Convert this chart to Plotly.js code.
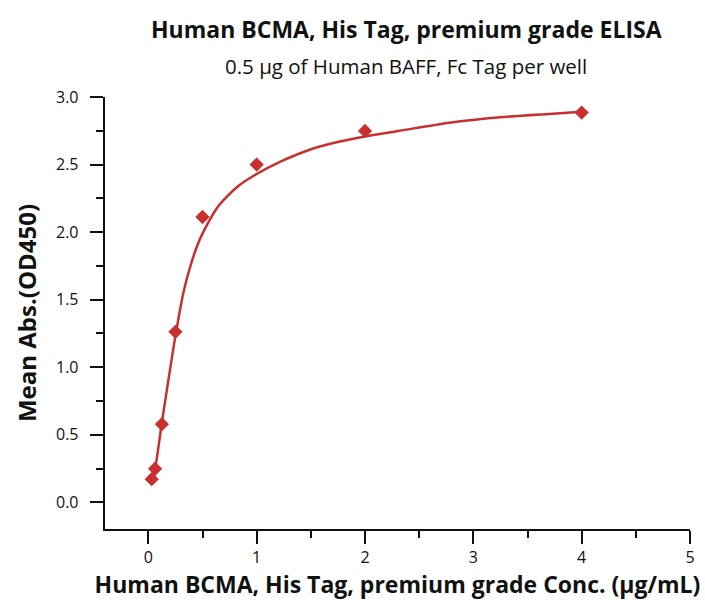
<!DOCTYPE html>
<html>
<head>
<meta charset="utf-8">
<script src="https://cdn.plot.ly/plotly-3.0.1.min.js"></script>
<style>html,body{margin:0;padding:0;background:#fff;}#chart{width:705px;height:600px;}</style>
</head>
<body>
<div id="chart"></div>
<script>
// Measured data points (concentration µg/mL, mean OD450)
const concentrations = [0.03125, 0.0625, 0.125, 0.25, 0.5, 1, 2, 4];
const meanAbs = [0.172, 0.249, 0.579, 1.262, 2.112, 2.50, 2.749, 2.885];

// Fitted curve
const fitX = [0.031, 0.062, 0.123, 0.19, 0.256, 0.323, 0.385, 0.461, 0.539, 0.631, 0.723, 0.846, 1.0, 1.215, 1.49, 1.767, 2.015, 2.32, 2.78, 3.245, 3.70, 4.0];
const fitY = [0.17, 0.25, 0.58, 0.93, 1.26, 1.55, 1.74, 1.92, 2.05, 2.175, 2.26, 2.35, 2.43, 2.52, 2.61, 2.67, 2.71, 2.75, 2.81, 2.85, 2.875, 2.89];

const titleText = 'Human BCMA, His Tag, premium grade ELISA';
const subtitleText = '0.5 μg of Human BAFF, Fc Tag per well';
const xTitle = 'Human BCMA, His Tag, premium grade Conc. (μg/mL)';
const yTitle = 'Mean Abs.(OD450)';

const red = '#c8302f';
const FONT = '"Open Sans", Lato, sans-serif';
const INK = '#111';

const traces = [
  {x: fitX, y: fitY, mode: 'lines', type: 'scatter', line: {color: red, width: 2.5, shape: 'spline', smoothing: 0.8}, hoverinfo: 'skip', showlegend: false},
  {x: concentrations, y: meanAbs, mode: 'markers', type: 'scatter', marker: {symbol: 'diamond', size: 11, color: red}, showlegend: false}
];

const layout = {
  width: 705, height: 600,
  margin: {l: 105, r: 15, t: 97, b: 71},
  paper_bgcolor: '#fff', plot_bgcolor: '#fff',
  font: {family: FONT, color: INK},
  showlegend: false,
  xaxis: {
    range: [-0.4, 5], dtick: 1,
    showgrid: false, zeroline: false, showline: true, linecolor: INK, linewidth: 2,
    ticks: 'outside', ticklen: 13, tickwidth: 2, tickcolor: INK,
    tickfont: {size: 16, family: FONT, color: INK},
    minor: {ticks: 'outside', ticklen: 7, tickwidth: 2, dtick: 0.5},
    title: {text: xTitle, font: {size: 23, family: FONT, color: INK, weight: 'bold'}, standoff: 6}
  },
  yaxis: {
    range: [-0.197, 3.0], dtick: 0.5, tickformat: '.1f', ticksuffix: '\u00a0\u00a0',
    showgrid: false, zeroline: false, showline: true, linecolor: INK, linewidth: 2,
    ticks: 'outside', ticklen: 13, tickwidth: 2, tickcolor: INK,
    tickfont: {size: 16, family: FONT, color: INK},
    minor: {ticks: 'outside', ticklen: 7, tickwidth: 2, dtick: 0.25},
    title: {text: yTitle, font: {size: 24, family: FONT, color: INK, weight: 'bold'}, standoff: 13}
  },
  annotations: [
    {text: titleText, xref: 'paper', yref: 'paper', x: 0.515, y: 1, yshift: 68, yanchor: 'middle', xanchor: 'center', showarrow: false, font: {size: 23, family: FONT, color: INK, weight: 'bold'}},
    {text: subtitleText, xref: 'paper', yref: 'paper', x: 0.515, y: 1, yshift: 31, yanchor: 'middle', xanchor: 'center', showarrow: false, font: {size: 20.5, family: FONT, color: INK}}
  ]
};

Plotly.newPlot('chart', traces, layout, {displayModeBar: false, staticPlot: true});
</script>
</body>
</html>
